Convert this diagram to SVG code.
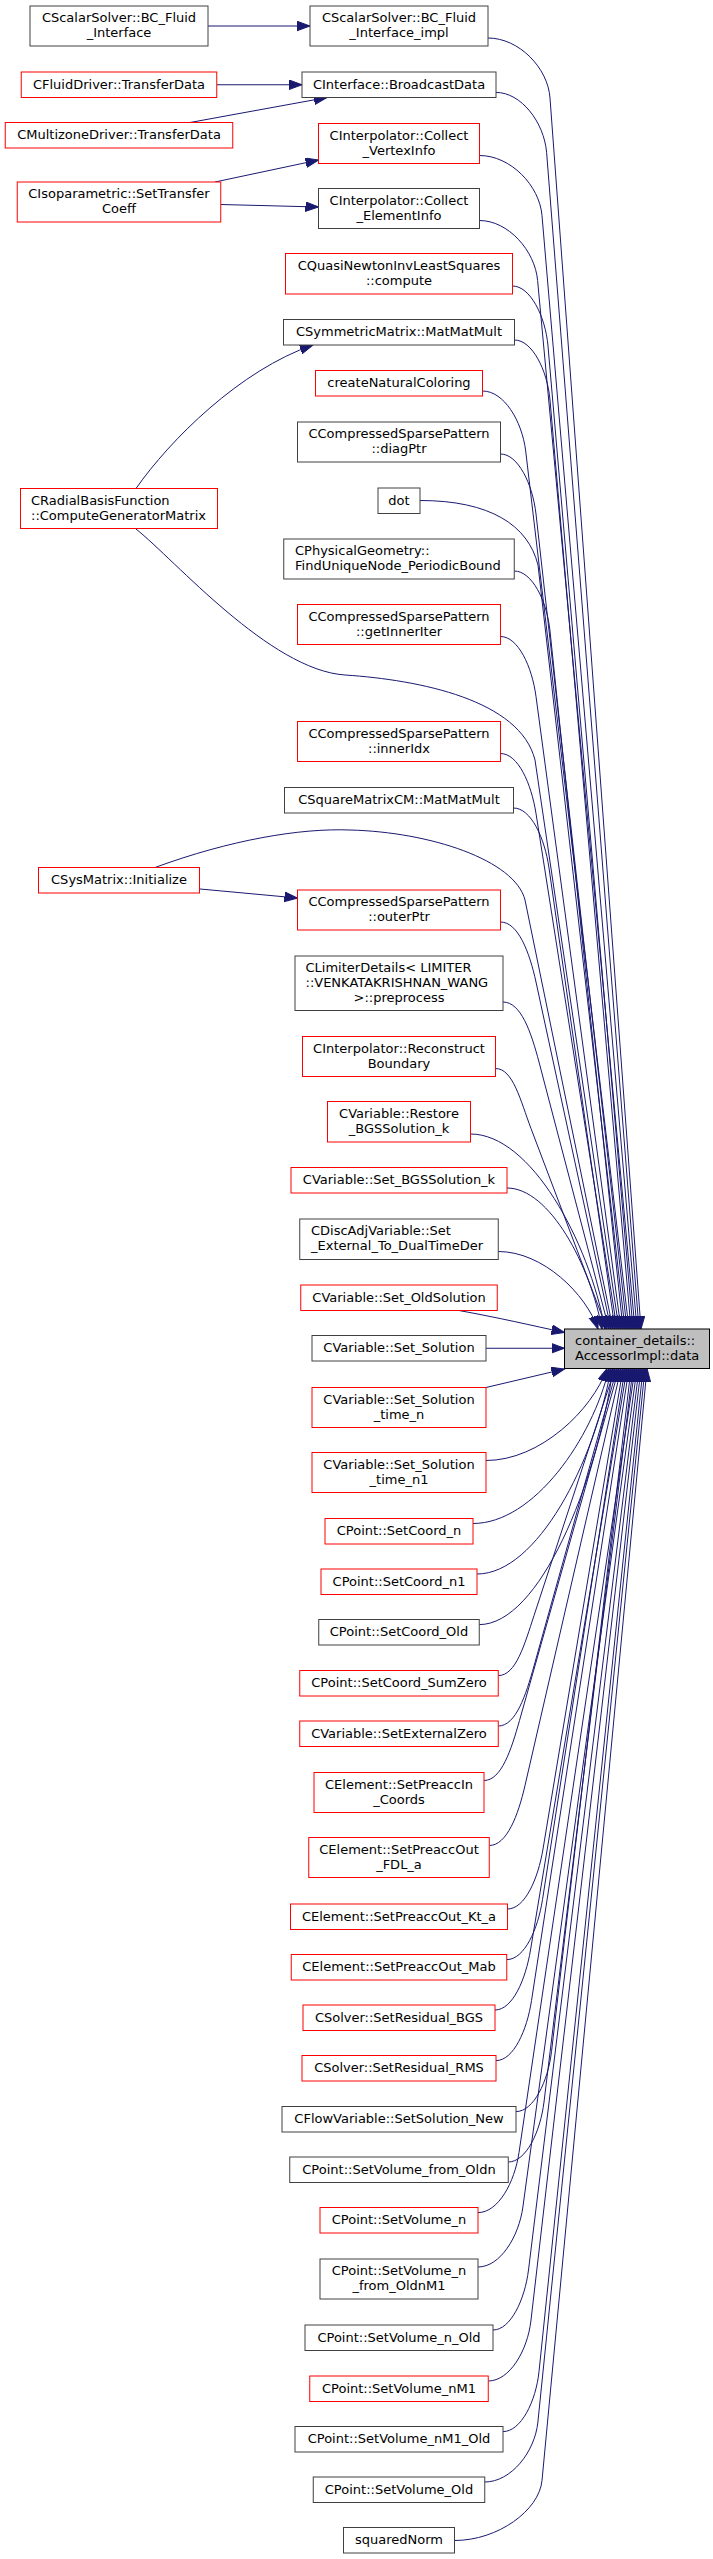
<svg xmlns="http://www.w3.org/2000/svg" width="713" height="2559" viewBox="0 0 713 2559">
<style>
rect{fill:#fff;stroke:#404040;stroke-width:1}
.r rect{stroke:#ff0000}
.tg rect{fill:#bfbfbf;stroke:#000}
text{font-family:'DejaVu Sans','Liberation Sans',sans-serif;font-size:13px;fill:#000;text-anchor:middle}
text.l{text-anchor:start}
#edges path{fill:none;stroke:#191970;stroke-width:1;marker-end:url(#a)}
</style>
<defs>
<marker id="a" markerUnits="userSpaceOnUse" markerWidth="14" markerHeight="11" refX="13" refY="4.8" orient="auto"><path d="M0,0 L13,4.8 L0,9.6 z" fill="#191970" stroke="#191970" stroke-width="1"/></marker>
</defs>
<rect x="0" y="0" width="713" height="2559" style="fill:#fff;stroke:none"/>
<g id="edges">
<path d="M208,26 L310,26"/>
<path d="M216.75,84.75 L302,84.75"/>
<path d="M190,122.5 L327,97.5"/>
<path d="M215,182 L318.5,160"/>
<path d="M220.75,204.5 L318.5,207"/>
<path d="M136,488.5 C170,440 240,370 313,345"/>
<path d="M200,889 L297.5,898"/>
<path d="M488,38 C519,38 548,68 550,98 L641,1329"/>
<path d="M496,92.4 C521,92.4 544,122 546.6,152.4 L639,1329"/>
<path d="M479.5,155.5 C510.5,155.5 539.5,185.5 542,215.5 L637,1329"/>
<path d="M479.5,220.5 C508,220.5 535,250.5 537.6,280.5 L635,1329"/>
<path d="M512.5,286 C530,286 545.4,316 548,346 L633,1329"/>
<path d="M514.5,340 C532,340 547.4,370 550,400 L631,1329"/>
<path d="M482.5,391 C504,391 522,421 525.7,451 L629,1329"/>
<path d="M500.5,454 C518,454 532.6,484 536,514 L627,1329"/>
<path d="M420,500.5 C490,500.5 528,525 538,565 L625,1329"/>
<path d="M514.25,571 C532,571 547,601 550,631 L623,1329"/>
<path d="M500.5,636.5 C518,636.5 532,666.5 536,696.5 L621,1329"/>
<path d="M136,529 C175,560 270,670 345,675 C420,680 520,700 535,760 L619,1329"/>
<path d="M500.5,753.5 C518,753.5 531.3,783.5 536,813.5 L617,1329"/>
<path d="M513.5,808 C531,808 544.7,838 549,868 L615,1329"/>
<path d="M155,867.5 C230,840 300,828 350,830 C430,832 515,860 525,900 L613,1329"/>
<path d="M500.5,922 C518,922 529.5,952 536,982 L611,1329"/>
<path d="M503,1002 C521,1002 531,1032 539,1062 L609,1329"/>
<path d="M495.5,1068.5 C513,1068.5 520.4,1100.4 531,1128.5 L607,1329"/>
<path d="M470.5,1134 C530.8,1134 588.8,1241.3 605,1329"/>
<path d="M507,1188 C549.5,1188 590.5,1265.5 602,1329"/>
<path d="M498.25,1251.5 C543,1251.5 586,1294 598,1329"/>
<path d="M459,1310.5 C500,1318 530,1325 564.5,1332.5"/>
<path d="M486,1348.25 L564.5,1348.25"/>
<path d="M486,1387.5 L564.5,1369"/>
<path d="M486,1460.5 C540.2,1460.5 592.4,1409.9 607,1368.5"/>
<path d="M473,1523.5 C533.9,1523.5 592.6,1438.3 609,1368.5"/>
<path d="M477,1574 C537.3,1574 594.9,1461 611,1368.5"/>
<path d="M479.25,1624.6 C539.3,1624.6 596.9,1483.7 613,1368.5"/>
<path d="M498.25,1675.6 C516,1675.6 524.6,1644.1 534,1615.6 L615,1368.5"/>
<path d="M498.25,1726 C516,1726 525.9,1694.9 534,1666 L617,1368.5"/>
<path d="M484,1780.5 C501.5,1780.5 511.3,1749.4 519.5,1720.5 L619,1368.5"/>
<path d="M489.25,1845.5 C507,1845.5 518.3,1814.7 525,1785.5 L621,1368.5"/>
<path d="M507.5,1909 C525,1909 538.1,1878.6 543,1849 L623,1368.5"/>
<path d="M506.75,1959.6 C524.5,1959.6 537.9,1929.2 542.5,1899.6 L625,1368.5"/>
<path d="M495,2010 C512.5,2010 525.6,1979.6 530.5,1950 L627,1368.5"/>
<path d="M496,2060.6 C513.5,2060.6 527,2030.2 531.5,2000.6 L629,1368.5"/>
<path d="M516,2111.6 C533.5,2111.6 548,2081.4 551.5,2051.6 L631,1368.5"/>
<path d="M508.25,2162 C526,2162 540.4,2131.8 544,2102 L633,1368.5"/>
<path d="M478,2212.6 C498.3,2212.6 514.6,2182.3 519,2152.6 L635,1368.5"/>
<path d="M478,2267 C500.2,2267 518.8,2236.7 522.9,2207 L637,1368.5"/>
<path d="M493,2330 C510.5,2330 524.8,2299.8 528.5,2270 L639,1368.5"/>
<path d="M488.25,2381 C509.5,2381 527.4,2350.8 530.9,2321 L641,1368.5"/>
<path d="M503,2431.6 C521,2431.6 535.9,2401.4 539,2371.6 L643,1368.5"/>
<path d="M484.75,2482 C511.2,2482 534.9,2451.8 537.9,2422 L645,1368.5"/>
<path d="M454.5,2540.5 C498,2540.5 539.2,2510.3 542,2480.5 L647,1368.5"/>
</g>
<g id="n1"><rect x="30" y="6" width="178" height="40"/><text x="119" y="22.2">CScalarSolver::BC_Fluid</text><text x="119" y="37.2">_Interface</text></g>
<g id="n2"><rect x="310" y="6" width="178" height="40"/><text x="399" y="22.2">CScalarSolver::BC_Fluid</text><text x="399" y="37.2">_Interface_impl</text></g>
<g id="n3" class="r"><rect x="21.25" y="72" width="195.5" height="25.5"/><text x="119" y="88.75">CFluidDriver::TransferData</text></g>
<g id="n4"><rect x="302" y="72" width="194" height="25.5"/><text x="399" y="88.75">CInterface::BroadcastData</text></g>
<g id="n5" class="r"><rect x="5.25" y="122.5" width="227.5" height="25.5"/><text x="119" y="139.25">CMultizoneDriver::TransferData</text></g>
<g id="n6" class="r"><rect x="318.5" y="123.5" width="161" height="40"/><text x="399" y="139.7">CInterpolator::Collect</text><text x="399" y="154.7">_VertexInfo</text></g>
<g id="n7" class="r"><rect x="17.25" y="182" width="203.5" height="40"/><text x="119" y="198.2">CIsoparametric::SetTransfer</text><text x="119" y="213.2">Coeff</text></g>
<g id="n8"><rect x="318.5" y="188.5" width="161" height="40"/><text x="399" y="204.7">CInterpolator::Collect</text><text x="399" y="219.7">_ElementInfo</text></g>
<g id="n9" class="r"><rect x="285.5" y="253.5" width="227" height="40.5"/><text x="399" y="269.7">CQuasiNewtonInvLeastSquares</text><text x="399" y="284.7">::compute</text></g>
<g id="n10"><rect x="283.5" y="319.5" width="231" height="25.5"/><text x="399" y="336.25">CSymmetricMatrix::MatMatMult</text></g>
<g id="n11" class="r"><rect x="315.5" y="370.5" width="167" height="25.5"/><text x="399" y="387.25">createNaturalColoring</text></g>
<g id="n12"><rect x="297.5" y="422" width="203" height="40"/><text x="399" y="438.2">CCompressedSparsePattern</text><text x="399" y="453.2">::diagPtr</text></g>
<g id="n13" class="r"><rect x="20.5" y="488.5" width="197" height="40"/><text class="l" x="31" y="504.7">CRadialBasisFunction</text><text class="l" x="31" y="519.7">::ComputeGeneratorMatrix</text></g>
<g id="n14"><rect x="378" y="488" width="42" height="25.5"/><text x="399" y="504.75">dot</text></g>
<g id="n15"><rect x="283.75" y="539" width="230.5" height="40"/><text class="l" x="295" y="555.2">CPhysicalGeometry::</text><text class="l" x="295" y="570.2">FindUniqueNode_PeriodicBound</text></g>
<g id="n16" class="r"><rect x="297.5" y="604.5" width="203" height="40"/><text x="399" y="620.7">CCompressedSparsePattern</text><text x="399" y="635.7">::getInnerIter</text></g>
<g id="n17" class="r"><rect x="297.5" y="721.5" width="203" height="40"/><text x="399" y="737.7">CCompressedSparsePattern</text><text x="399" y="752.7">::innerIdx</text></g>
<g id="n18"><rect x="284.5" y="787.5" width="229" height="25.5"/><text x="399" y="804.25">CSquareMatrixCM::MatMatMult</text></g>
<g id="n19" class="r"><rect x="38.5" y="867.5" width="161" height="25.5"/><text x="119" y="884.25">CSysMatrix::Initialize</text></g>
<g id="n20" class="r"><rect x="297.5" y="890" width="203" height="40"/><text x="399" y="906.2">CCompressedSparsePattern</text><text x="399" y="921.2">::outerPtr</text></g>
<g id="n21"><rect x="295" y="956" width="208" height="54.5"/><text class="l" x="305.5" y="972">CLimiterDetails&lt; LIMITER</text><text class="l" x="305.5" y="987">::VENKATAKRISHNAN_WANG</text><text x="399" y="1002">&gt;::preprocess</text></g>
<g id="n22" class="r"><rect x="302.5" y="1036.5" width="193" height="40"/><text x="399" y="1052.7">CInterpolator::Reconstruct</text><text x="399" y="1067.7">Boundary</text></g>
<g id="n23" class="r"><rect x="327.5" y="1101.5" width="143" height="40.5"/><text x="399" y="1117.7">CVariable::Restore</text><text x="399" y="1132.7">_BGSSolution_k</text></g>
<g id="n24" class="r"><rect x="291" y="1167.5" width="216" height="25.5"/><text x="399" y="1184.25">CVariable::Set_BGSSolution_k</text></g>
<g id="n25"><rect x="299.75" y="1219" width="198.5" height="40.5"/><text class="l" x="311" y="1235.2">CDiscAdjVariable::Set</text><text class="l" x="311" y="1250.2">_External_To_DualTimeDer</text></g>
<g id="n26" class="r"><rect x="300.75" y="1285" width="196.5" height="25.5"/><text x="399" y="1301.75">CVariable::Set_OldSolution</text></g>
<g id="target" class="tg"><rect x="564.5" y="1329" width="145" height="39.5"/><text class="l" x="575" y="1345.2">container_details::</text><text class="l" x="575" y="1360.2">AccessorImpl::data</text></g>
<g id="n27"><rect x="312" y="1335.5" width="174" height="25.5"/><text x="399" y="1352.25">CVariable::Set_Solution</text></g>
<g id="n28" class="r"><rect x="312" y="1387.5" width="174" height="40"/><text x="399" y="1403.7">CVariable::Set_Solution</text><text x="399" y="1418.7">_time_n</text></g>
<g id="n29" class="r"><rect x="312" y="1452.5" width="174" height="40"/><text x="399" y="1468.7">CVariable::Set_Solution</text><text x="399" y="1483.7">_time_n1</text></g>
<g id="n30" class="r"><rect x="325" y="1518.5" width="148" height="25.5"/><text x="399" y="1535.25">CPoint::SetCoord_n</text></g>
<g id="n31" class="r"><rect x="321" y="1569" width="156" height="25.5"/><text x="399" y="1585.75">CPoint::SetCoord_n1</text></g>
<g id="n32"><rect x="318.75" y="1619.5" width="160.5" height="25.5"/><text x="399" y="1636.25">CPoint::SetCoord_Old</text></g>
<g id="n33" class="r"><rect x="299.75" y="1670.5" width="198.5" height="25.5"/><text x="399" y="1687.25">CPoint::SetCoord_SumZero</text></g>
<g id="n34" class="r"><rect x="299.75" y="1721" width="198.5" height="25.5"/><text x="399" y="1737.75">CVariable::SetExternalZero</text></g>
<g id="n35" class="r"><rect x="314" y="1772.5" width="170" height="40"/><text x="399" y="1788.7">CElement::SetPreaccIn</text><text x="399" y="1803.7">_Coords</text></g>
<g id="n36" class="r"><rect x="308.75" y="1837.5" width="180.5" height="40"/><text x="399" y="1853.7">CElement::SetPreaccOut</text><text x="399" y="1868.7">_FDL_a</text></g>
<g id="n37" class="r"><rect x="290.5" y="1904" width="217" height="25.5"/><text x="399" y="1920.75">CElement::SetPreaccOut_Kt_a</text></g>
<g id="n38" class="r"><rect x="291.25" y="1954.5" width="215.5" height="25.5"/><text x="399" y="1971.25">CElement::SetPreaccOut_Mab</text></g>
<g id="n39" class="r"><rect x="303" y="2005" width="192" height="25.5"/><text x="399" y="2021.75">CSolver::SetResidual_BGS</text></g>
<g id="n40" class="r"><rect x="302" y="2055.5" width="194" height="25.5"/><text x="399" y="2072.25">CSolver::SetResidual_RMS</text></g>
<g id="n41"><rect x="282" y="2106.5" width="234" height="25.5"/><text x="399" y="2123.25">CFlowVariable::SetSolution_New</text></g>
<g id="n42"><rect x="289.75" y="2157" width="218.5" height="25.5"/><text x="399" y="2173.75">CPoint::SetVolume_from_Oldn</text></g>
<g id="n43" class="r"><rect x="320" y="2207.5" width="158" height="25.5"/><text x="399" y="2224.25">CPoint::SetVolume_n</text></g>
<g id="n44"><rect x="320" y="2259" width="158" height="40"/><text x="399" y="2275.2">CPoint::SetVolume_n</text><text x="399" y="2290.2">_from_OldnM1</text></g>
<g id="n45"><rect x="305" y="2325" width="188" height="25.5"/><text x="399" y="2341.75">CPoint::SetVolume_n_Old</text></g>
<g id="n46" class="r"><rect x="309.75" y="2376" width="178.5" height="25.5"/><text x="399" y="2392.75">CPoint::SetVolume_nM1</text></g>
<g id="n47"><rect x="295" y="2426.5" width="208" height="25.5"/><text x="399" y="2443.25">CPoint::SetVolume_nM1_Old</text></g>
<g id="n48"><rect x="313.25" y="2477" width="171.5" height="25.5"/><text x="399" y="2493.75">CPoint::SetVolume_Old</text></g>
<g id="n49"><rect x="343.5" y="2527.5" width="111" height="25.5"/><text x="399" y="2544.25">squaredNorm</text></g>
</svg>
